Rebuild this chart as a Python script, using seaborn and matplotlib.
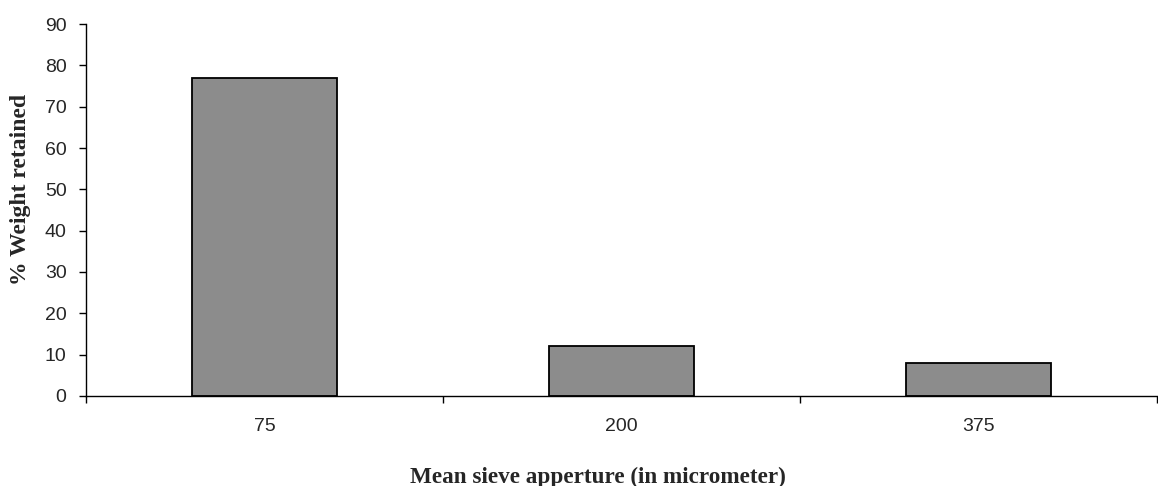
import seaborn as sns
import matplotlib.pyplot as plt
import pandas as pd

# sieve data
apertures = ["75", "200", "375"]
weight_retained = [77, 12, 8]

df = pd.DataFrame({"aperture": apertures, "weight": weight_retained})

sns.set_style("ticks")
plt.rcParams["font.family"] = ["Liberation Sans", "DejaVu Sans"]

fig = plt.figure(figsize=(11.58, 4.86), dpi=100)
ax = fig.add_axes([0.0743, 0.1852, 0.925, 0.7654])

sns.barplot(data=df, x="aperture", y="weight", order=apertures, ax=ax,
            color="#8c8c8c", edgecolor="black", linewidth=1.3, width=0.405,
            saturation=1)

ax.set_ylim(0, 90)
ax.set_yticks(range(0, 91, 10))
ax.set_xlim(-0.5, 2.5)
ax.set_xticks([-0.5, 0.5, 1.5, 2.5], minor=False)
ax.set_xticklabels(["", "", "", ""])
ax.set_xticks([0, 1, 2], minor=True)
ax.set_xticklabels(apertures, minor=True)
ax.tick_params(axis="x", which="minor", length=0, pad=16, labelsize=14)
ax.tick_params(axis="x", which="major", length=5, width=1, color="black")
ax.tick_params(axis="y", length=5, width=1, pad=9, labelsize=14, color="black")

for s in ["top", "right"]:
    ax.spines[s].set_visible(False)
for s in ["left", "bottom"]:
    ax.spines[s].set_color("black")
    ax.spines[s].set_linewidth(1)

ax.set_xlabel("Mean sieve apperture (in micrometer)", fontfamily="Liberation Serif",
              fontweight="bold", fontsize=16.7, labelpad=23, x=0.478)
ax.set_ylabel("% Weight retained", fontfamily="Liberation Serif",
              fontweight="bold", fontsize=17, labelpad=10, y=0.554)

fig.savefig("out.png", dpi=100)
